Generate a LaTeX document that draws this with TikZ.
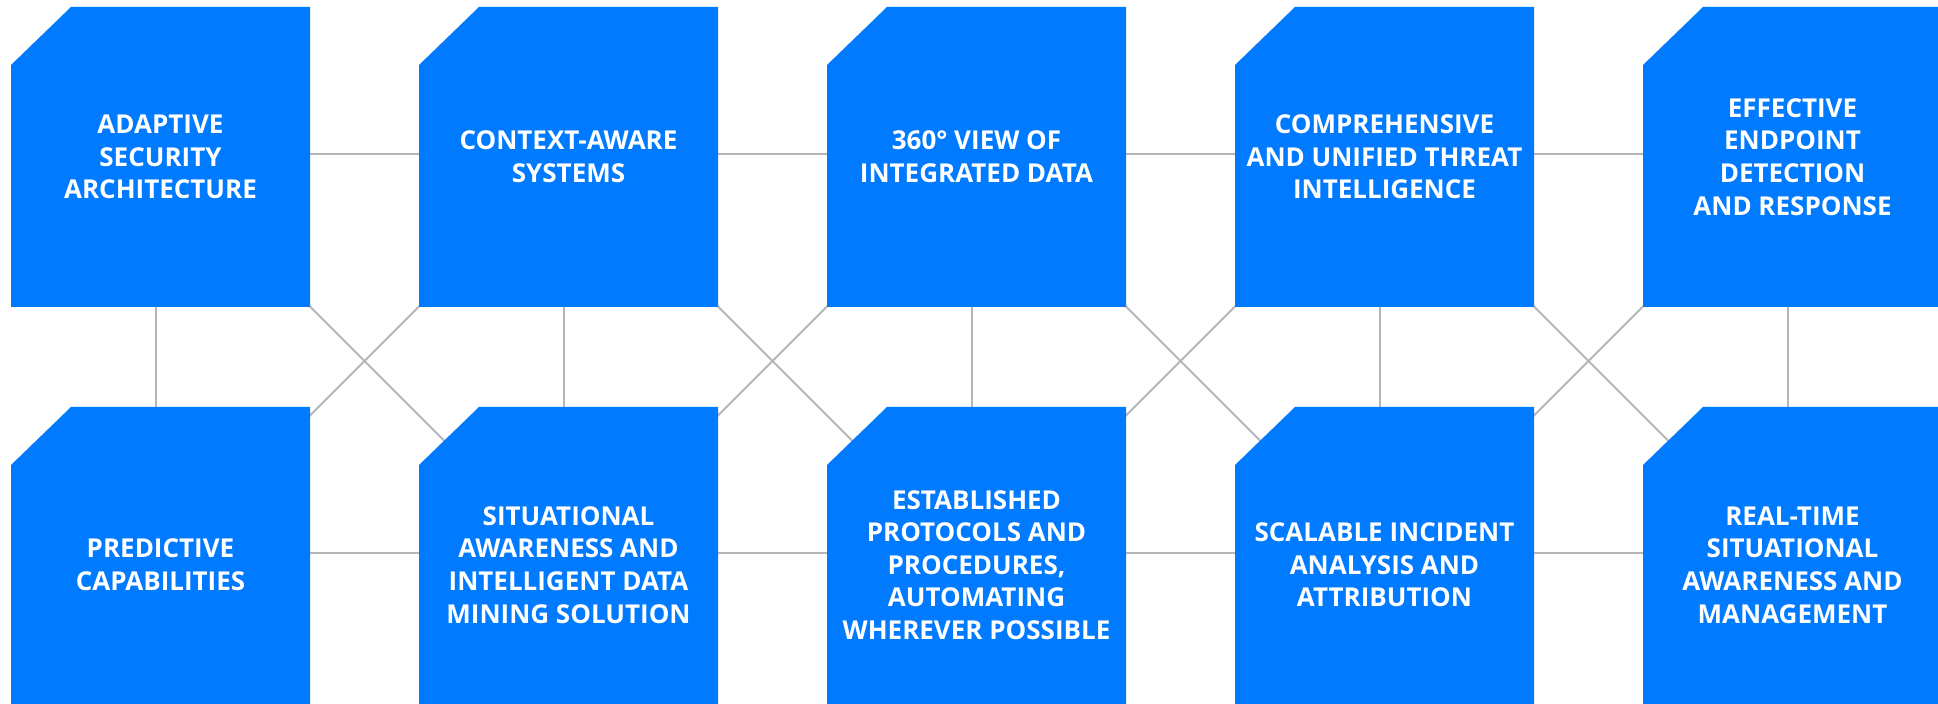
\documentclass[tikz,border=0pt]{standalone}
\usepackage{fontspec}
\setmainfont{Open Sans}
\usepackage{tikz}
\usetikzlibrary{backgrounds}

\definecolor{cardblue}{RGB}{0,123,255}
\definecolor{linkgray}{RGB}{178,181,186}

\tikzset{
    card/.style={minimum width=149.5pt, minimum height=150pt, inner sep=0pt,
        align=center, text=white, font=\bfseries\fontsize{13}{16.3}\selectfont,
        path picture={\fill[cardblue] ([xshift=30pt]path picture bounding box.north west)
            -- (path picture bounding box.north east) -- (path picture bounding box.south east)
            -- (path picture bounding box.south west) -- ([yshift=-29pt]path picture bounding box.north west) -- cycle;}},
    lowcard/.style={card, minimum height=158pt},
    link/.style={draw=linkgray, line width=1pt}
}

\begin{document}
\begin{tikzpicture}[x=0.5pt, y=-0.5pt]
        \useasboundingbox (0,0) rectangle (1938,704);
        \clip (0,0) rectangle (1938,704);

        % top row
        \node[card] (t1) at (160.5,157) {ADAPTIVE\\SECURITY\\ARCHITECTURE};
        \node[card] (t2) at (568.5,157) {CONTEXT-AWARE\\SYSTEMS};
        \node[card] (t3) at (976.5,157) {360° VIEW OF\\INTEGRATED DATA};
        \node[card] (t4) at (1384.5,157) {COMPREHENSIVE\\AND UNIFIED THREAT\\INTELLIGENCE};
        \node[card] (t5) at (1792.5,157) {EFFECTIVE\\ENDPOINT\\DETECTION\\AND RESPONSE};

        % bottom row
        \node[lowcard] (b1) at (160.5,565) {PREDICTIVE\\CAPABILITIES};
        \node[lowcard] (b2) at (568.5,565) {SITUATIONAL\\AWARENESS AND\\INTELLIGENT DATA\\MINING SOLUTION};
        \node[lowcard] (b3) at (976.5,565) {ESTABLISHED\\PROTOCOLS AND\\PROCEDURES,\\AUTOMATING\\WHEREVER POSSIBLE};
        \node[lowcard] (b4) at (1384.5,565) {SCALABLE INCIDENT\\ANALYSIS AND\\ATTRIBUTION};
        \node[lowcard] (b5) at (1792.5,565) {REAL-TIME\\SITUATIONAL\\AWARENESS AND\\MANAGEMENT};

        \begin{scope}[on background layer]
            \foreach \i [count=\j from 2] in {1,...,4} {
                \draw[link] ([yshift=1.5pt]t\i.east) -- ([yshift=1.5pt]t\j.west);
                \draw[link] ([yshift=6pt]b\i.east) -- ([yshift=6pt]b\j.west);
                \draw[link] (t\i.center) -- (b\j.center);
                \draw[link] (b\i.center) -- (t\j.center);
            }
            \foreach \i in {1,...,5}
                \draw[link] ([xshift=-2.5pt]t\i.south) -- ([xshift=-2.5pt]b\i.north);
        \end{scope}
    \end{tikzpicture}
\end{document}
